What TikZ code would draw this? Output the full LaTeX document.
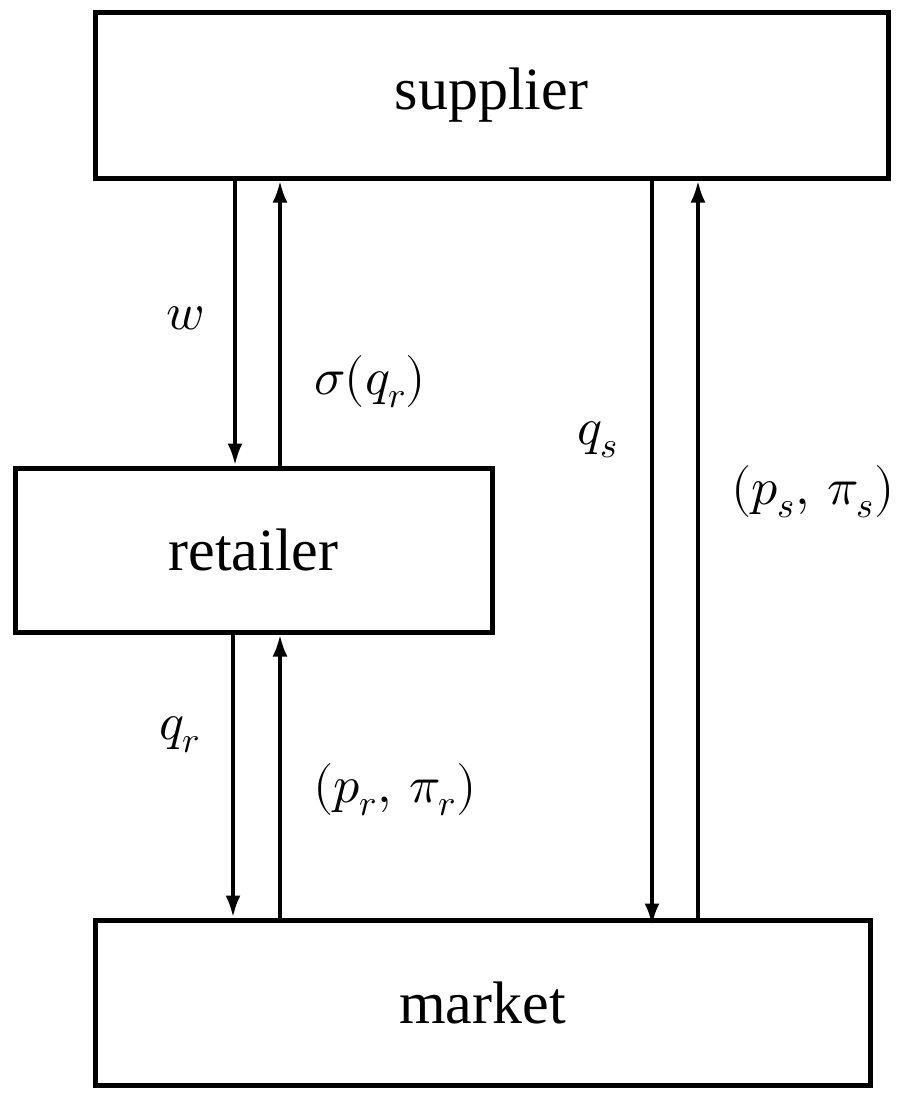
\documentclass[tikz,border=0pt]{standalone}
\usepackage{unicode-math}
\setmainfont{Liberation Serif}
\setmathfont{Latin Modern Math}
\usetikzlibrary{arrows.meta}
\begin{document}
\begin{tikzpicture}[x=1pt,y=-1pt,
  box/.style={draw,line width=5pt,inner sep=0pt,font=\fontsize{60}{66}\selectfont},
  arr/.style={line width=4pt,-{Latex[length=22pt,width=15pt]}},
  lab/.style={font=\fontsize{52}{58}\selectfont}]
\useasboundingbox (0,0) rectangle (924,1104);
\node[box,minimum width=793pt,minimum height=166pt] (sup) at (491.5,95) {supplier};
\node[box,minimum width=477pt,minimum height=164pt] (ret) at (253.5,550) {retailer};
\node[box,minimum width=775pt,minimum height=165pt] (mkt) at (482.5,1002.5) {market};
\coordinate (a1) at (235,0); \coordinate (a2) at (280,0);
\coordinate (a3) at (233,0); \coordinate (a4) at (652,0); \coordinate (a5) at (698,0);
\draw[arr] (sup.south -| a1) -- (ret.north -| a1);
\draw[arr] (ret.north -| a2) -- (sup.south -| a2);
\draw[arr] (ret.south -| a3) -- (mkt.north -| a3);
\draw[arr] (mkt.north -| a2) -- (ret.south -| a2);
\draw[arr] (sup.south -| a4) -- ([yshift=-8pt]mkt.north -| a4);
\draw[arr] (mkt.north -| a5) -- (sup.south -| a5);
\node[lab] (lw) at (185,318) {$w$};
\node[lab] (ls) at (370,382) {$\sigma(q_r)$};
\node[lab] (lqs) at (598,440) {$q_s$};
\node[lab] (lps) at (813,492) {$(p_s,\,\pi_s)$};
\node[lab] (lqr) at (180,735) {$q_r$};
\node[lab] (lpr) at (395,790) {$(p_r,\,\pi_r)$};
\end{tikzpicture}
\end{document}
